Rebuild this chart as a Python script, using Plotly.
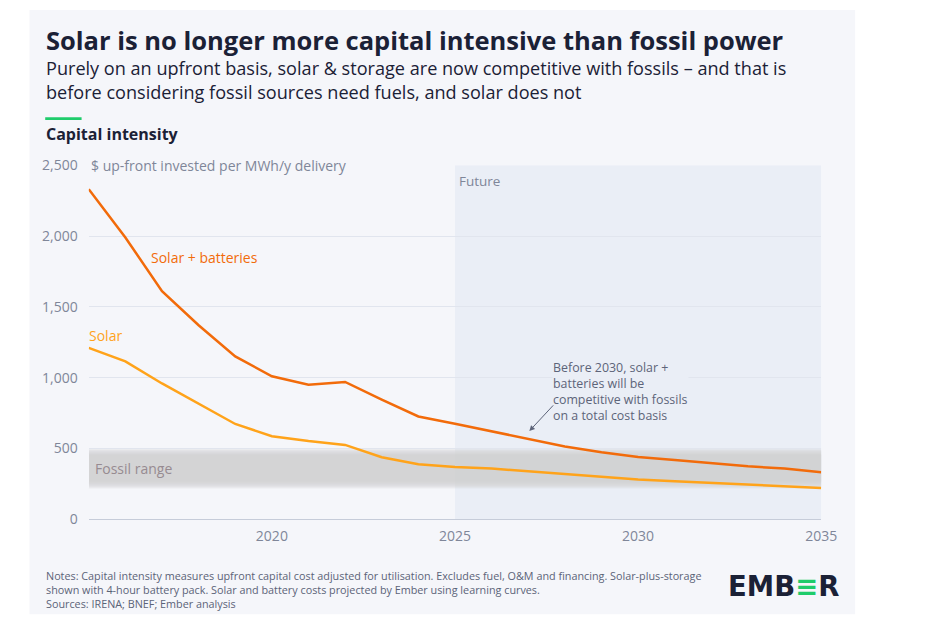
import plotly.graph_objects as go

years = list(range(2015, 2036))
solar_batteries = [2330, 1990, 1610, 1370, 1150, 1010, 950, 970, 845, 726, 675,
                   621, 564, 514, 473, 440, 418, 395, 374, 358, 333]
solar = [1210, 1115, 959, 815, 673, 587, 553, 525, 438, 388, 370,
         358, 338, 320, 301, 281, 269, 258, 247, 235, 221]
y_tickvals = [0, 500, 1000, 1500, 2000, 2500]
y_ticktext = ["0", "500", "1,000", "1,500", "2,000", "2,500"]
x_tickvals = [2020, 2025, 2030, 2035]
fossil_low, fossil_high = 215, 500
future_start, future_end = 2025, 2035

title = "Solar is no longer more capital intensive than fossil power"
subtitle_lines = [
    "Purely on an upfront basis, solar &amp; storage are now competitive with fossils \u2013 and that is",
    "before considering fossil sources need fuels, and solar does not",
]
callout_lines = ["Before 2030, solar +", "batteries will be",
                 "competitive with fossils", "on a total cost basis"]
note_lines = [
    "Notes: Capital intensity measures upfront capital cost adjusted for utilisation. Excludes fuel, O&amp;M and financing. Solar-plus-storage",
    "shown with 4-hour battery pack. Solar and battery costs projected by Ember using learning curves.",
    "Sources: IRENA; BNEF; Ember analysis",
]

W, H = 936, 635
FONT = "Open Sans"
PANEL = "#f5f6fa"
FUTURE = "#eaeef6"
DARK = "#1b2136"
GREY = "#7f8699"
C_SB = "#f26b0a"
C_S = "#ffa31a"

def px(x):
    return x / W

def py(y):
    return 1 - y / H

fig = go.Figure()

fig.add_trace(go.Scatter(x=years, y=solar, mode="lines",
                         line=dict(color=C_S, width=2.5), hoverinfo="skip"))
fig.add_trace(go.Scatter(x=years, y=solar_batteries, mode="lines",
                         line=dict(color=C_SB, width=2.5), hoverinfo="skip"))

shapes = []
shapes.append(dict(type="rect", xref="paper", yref="paper", x0=px(30), x1=px(870),
                   y0=py(623), y1=py(0), fillcolor=PANEL, line=dict(width=0), layer="below"))
shapes.append(dict(type="rect", xref="x", yref="y", x0=future_start, x1=future_end,
                   y0=0, y1=2500, fillcolor=FUTURE, line=dict(width=0), layer="below"))
n = 10
for i in range(n):
    f = i / (n - 1)
    shapes.append(dict(type="rect", xref="x", yref="y", x0=years[0], x1=future_end,
                       y0=fossil_low + f * 55, y1=fossil_high - f * 50,
                       fillcolor="#cfcfcf", opacity=0.17,
                       line=dict(width=0), layer="below"))
shapes.append(dict(type="rect", xref="paper", yref="paper", x0=px(46), x1=px(83),
                   y0=py(113.5), y1=py(110.5), fillcolor="#1fcc6b", line=dict(width=0)))

annotations = []
annotations.append(dict(xref="paper", yref="paper", x=px(45), y=py(31), xanchor="left",
                        yanchor="middle", showarrow=False, text="<b>" + title + "</b>",
                        font=dict(family=FONT, size=25.5, color=DARK)))
annotations.append(dict(xref="paper", yref="paper", x=px(45), y=py(72.5),
                        xanchor="left", yanchor="middle", showarrow=False, align="left",
                        text="<br>".join(subtitle_lines),
                        font=dict(family=FONT, size=18.1, color=DARK)))
annotations.append(dict(xref="paper", yref="paper", x=px(45), y=py(127.5), xanchor="left",
                        yanchor="middle", showarrow=False,
                        text="<b>Capital intensity</b>",
                        font=dict(family=FONT, size=16, color=DARK)))
annotations.append(dict(xref="x", yref="y", x=years[0], y=2500, xanchor="left",
                        yanchor="middle", showarrow=False, xshift=-2,
                        text="$ up-front invested per MWh/y delivery", bgcolor=PANEL,
                        borderpad=3,
                        font=dict(family=FONT, size=14, color=GREY)))
annotations.append(dict(xref="x", yref="y", x=future_start, y=2500, xanchor="left",
                        yanchor="top", showarrow=False, xshift=2, yshift=-5,
                        text="Future", font=dict(family=FONT, size=13.5, color=GREY)))
annotations.append(dict(xref="x", yref="y", x=2016.65, y=1850, xanchor="left",
                        yanchor="middle", showarrow=False,
                        text="Solar + batteries", font=dict(family=FONT, size=14, color=C_SB)))
annotations.append(dict(xref="x", yref="y", x=years[0], y=1300, xanchor="left",
                        yanchor="middle", showarrow=False, xshift=-2,
                        text="Solar", font=dict(family=FONT, size=14, color=C_S)))
annotations.append(dict(xref="x", yref="y", x=years[0], y=360, xanchor="left",
                        yanchor="middle", showarrow=False, xshift=4,
                        text="Fossil range", font=dict(family=FONT, size=14, color="#978b91")))
annotations.append(dict(xref="paper", yref="paper", x=px(562), y=py(393),
                        xanchor="left", yanchor="middle", showarrow=False, align="left",
                        bgcolor=FUTURE, borderpad=0, text="<br>".join(callout_lines),
                        font=dict(family=FONT, size=12.4, color="#5d6479")))
annotations.append(dict(xref="x", yref="y", x=2027.03, y=623, axref="x", ayref="y",
                        ax=2027.72, ay=815, text="", showarrow=True, arrowhead=2,
                        arrowsize=1.1, arrowwidth=1, arrowcolor="#5d6479"))
annotations.append(dict(xref="paper", yref="paper", x=px(45), y=py(597.5),
                        xanchor="left", yanchor="middle", showarrow=False, align="left",
                        text="<br>".join(note_lines),
                        font=dict(family=FONT, size=10.8, color="#5b6378")))
annotations.append(dict(xref="paper", yref="paper", x=px(797.5), y=py(593.5), xanchor="center",
                        yanchor="middle", showarrow=False,
                        text="<b>EMB<span style='color:#1fcc6b'>\u2261</span>R</b>",
                        font=dict(family="DejaVu Sans", size=27.5, color=DARK)))

fig.update_layout(
    width=W, height=H, autosize=False,
    margin=dict(l=0, r=0, t=0, b=0),
    paper_bgcolor="white", plot_bgcolor="rgba(0,0,0,0)",
    showlegend=False,
    shapes=shapes, annotations=annotations,
    xaxis=dict(domain=[px(90.3), px(835.5)], range=[2015, 2035],
               tickvals=x_tickvals, ticks="", showgrid=False, zeroline=False,
               showline=True, linecolor="#c6ccd9", linewidth=1.2,
               tickfont=dict(family=FONT, size=14, color=GREY), ticklabelstandoff=4,
               fixedrange=True),
    yaxis=dict(domain=[py(525), py(160)], range=[0, 2500],
               tickvals=y_tickvals, ticktext=y_ticktext, ticks="",
               showgrid=True, gridcolor="#e1e5ee", gridwidth=1, zeroline=False,
               showline=False, ticklabelstandoff=10,
               tickfont=dict(family=FONT, size=14, color=GREY), fixedrange=True),
)

post = (
    "document.body.style.margin='0';document.body.style.padding='0';"
    "document.body.style.overflow='hidden';"
)
fig.write_html("out.html", config={"responsive": False, "displayModeBar": False},
               post_script=post)
